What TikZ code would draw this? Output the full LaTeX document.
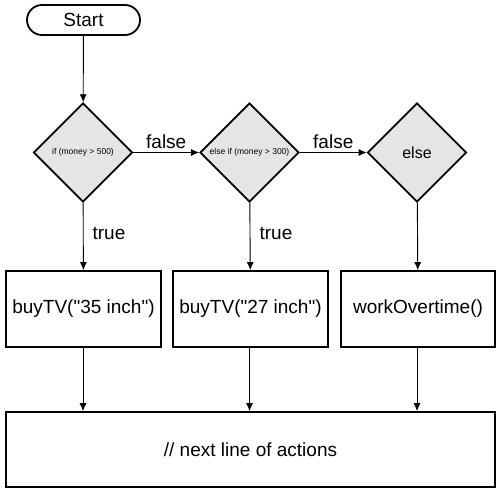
\documentclass[tikz,border=0pt]{standalone}
\usepackage{fontspec}
\setmainfont{Liberation Sans}
\usetikzlibrary{arrows.meta,shapes.geometric}
\begin{document}
\begin{tikzpicture}[x=1pt,y=-1pt,
  box/.style={draw,line width=1.8pt,minimum width=#1,inner sep=0pt,font=\fontsize{19}{22}\selectfont},
  dec/.style={draw,line width=1.8pt,fill=black!10,diamond,minimum width=99pt,minimum height=99pt,inner sep=0pt,aspect=1},
  arr/.style={-{Latex[length=8pt,width=7pt]},line width=0.9pt},
  lbl/.style={font=\fontsize{19}{22}\selectfont}]
\useasboundingbox (0,0) rectangle (500,490);
\node[box=113pt,minimum height=30pt,rounded corners=15pt] (start) at (83.5,20) {Start};
\node[dec,font=\fontsize{8.5}{10}\selectfont] (d1) at (83,152.5) {if (money > 500)};
\node[dec,font=\fontsize{8.5}{10}\selectfont] (d2) at (249.5,152.5) {else if (money > 300)};
\node[dec,font=\fontsize{16}{18}\selectfont] (d3) at (417,152.5) {else};
\node[box=155pt,minimum height=76pt] (b1) at (83.5,309) {buyTV(\textquotedbl 35 inch\textquotedbl)};
\node[box=155pt,minimum height=76pt] (b2) at (250.5,309) {buyTV(\textquotedbl 27 inch\textquotedbl)};
\node[box=154pt,minimum height=76pt] (b3) at (418,309) {workOvertime()};
\node[box=489pt,minimum height=75pt] (next) at (250.5,449.5) {// next line of actions};
\draw[arr] (start) -- (d1);
\draw[arr] (d1) -- node[lbl,above=0pt]{false} (d2);
\draw[arr] (d2) -- node[lbl,above=0pt]{false} (d3);
\draw[arr] (d1) -- (b1);
\draw[arr] (d2) -- (b2);
\draw[arr] (d3) -- (b3);
\node[lbl] at (109,233) {true};
\node[lbl] at (276,233) {true};
\draw[arr] (b1.south -| d1) -- (next.north -| d1);
\draw[arr] (b2.south -| d2) -- (next.north -| d2);
\draw[arr] (b3.south -| d3) -- (next.north -| d3);
\end{tikzpicture}
\end{document}
